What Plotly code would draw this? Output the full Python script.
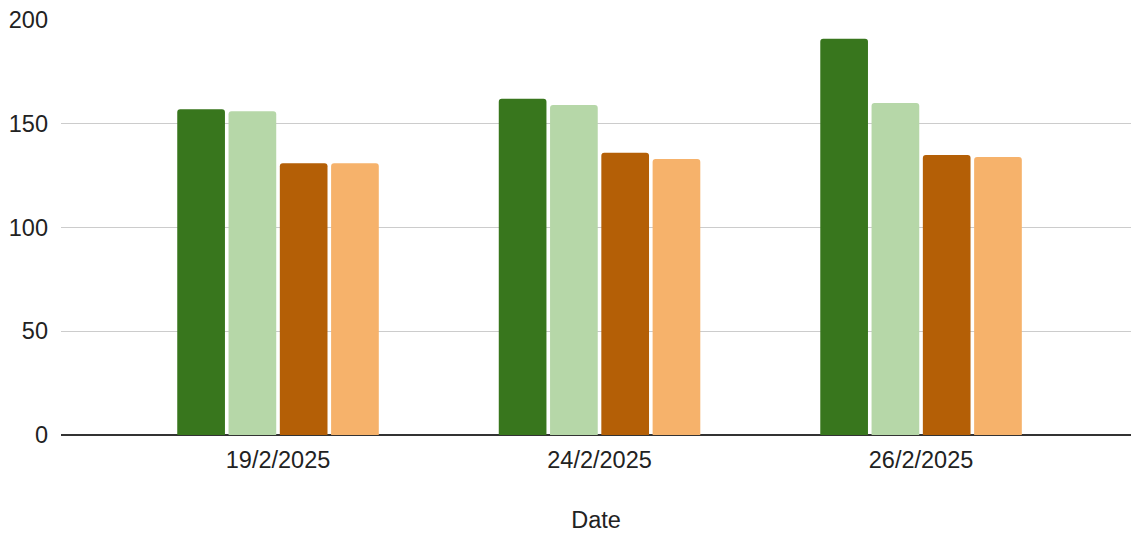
import plotly.graph_objects as go

dates = ["19/2/2025", "24/2/2025", "26/2/2025"]
series_names = ["Series 1", "Series 2", "Series 3", "Series 4"]
series_values = [
    [157, 162, 191],
    [156, 159, 160],
    [131, 136, 135],
    [131, 133, 134],
]
colors = ["#38761d", "#b6d7a8", "#b45f06", "#f6b26b"]
y_ticks = [0, 50, 100, 150, 200]

fig = go.Figure()
for name, vals, col in zip(series_names, series_values, colors):
    fig.add_trace(go.Bar(x=dates, y=vals, name=name, marker_color=col,
                         marker_line_width=0))

font = "Liberation Sans, Arial, sans-serif"
fs = 23.5
fig.update_layout(
    width=1131, height=533,
    margin=dict(l=61, r=0, t=20, b=98),
    paper_bgcolor="white", plot_bgcolor="white",
    showlegend=False,
    barmode="group", bargap=0.362, bargroupgap=0.07,
    barcornerradius=3,
    font=dict(family=font, size=fs, color="#222222"),
    xaxis=dict(
        type="category",
        range=[-0.675, 2.653],
        showgrid=False,
        showline=False,
        ticks="",
        ticklabelstandoff=8,
        tickfont=dict(size=fs, color="#222222"),
        title=dict(text="Date", font=dict(size=fs, color="#222222"), standoff=40),
    ),
    yaxis=dict(
        range=[0, 200],
        tickvals=y_ticks,
        showgrid=True, gridcolor="#cccccc", gridwidth=1,
        zeroline=True, zerolinecolor="#333333", zerolinewidth=1.5,
        showline=False, ticks="",
        ticklabelstandoff=12,
        tickfont=dict(size=fs, color="#222222"),
    ),
)

fig.write_html("out.html")
